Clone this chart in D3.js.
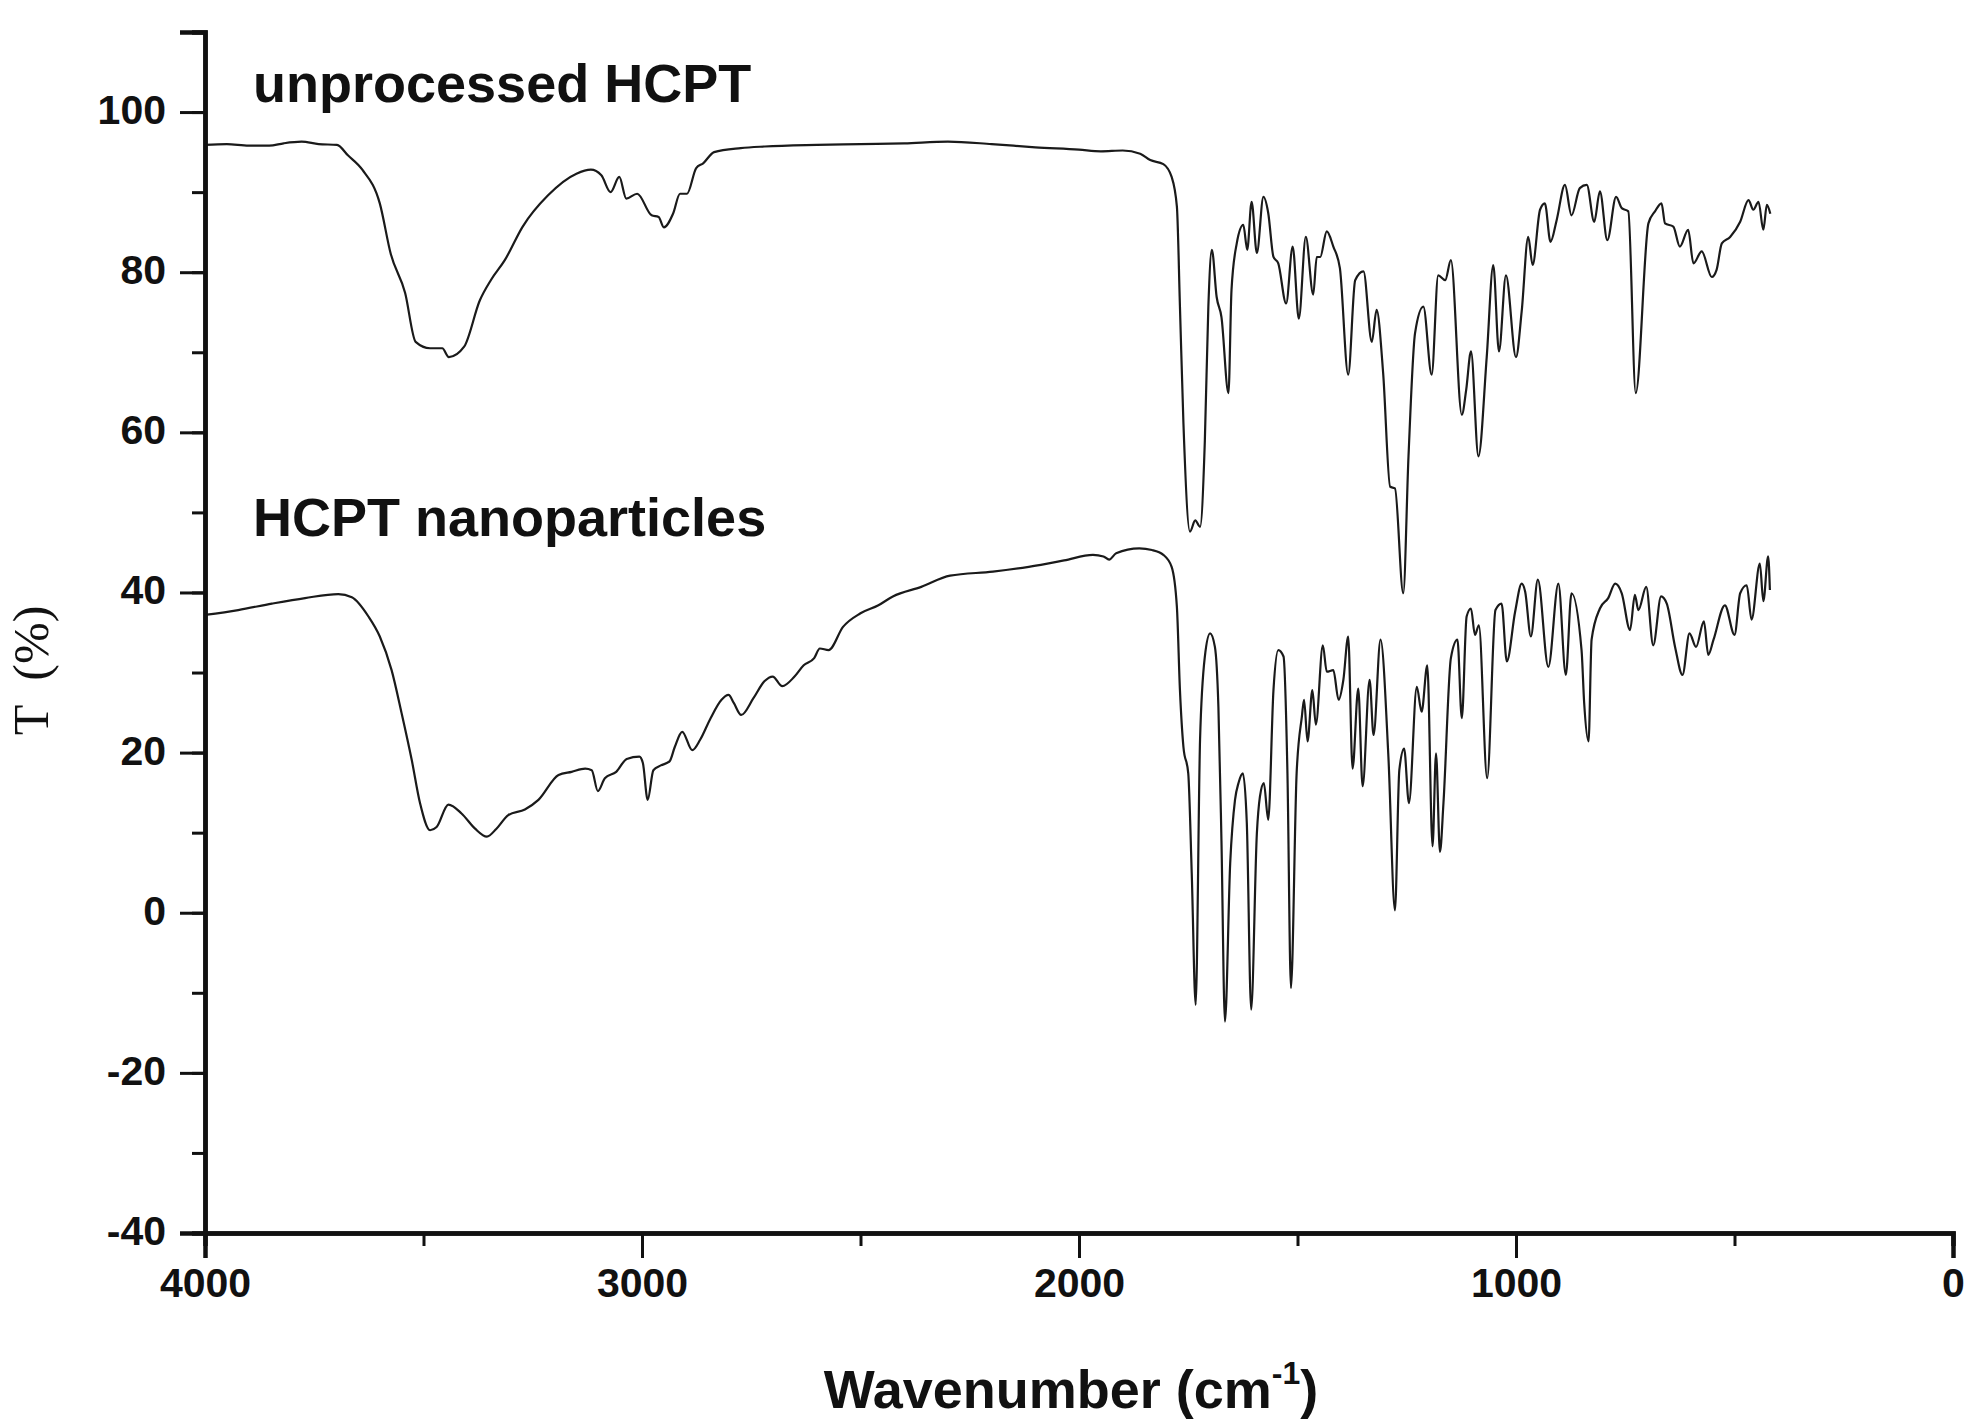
<!DOCTYPE html>
<html>
<head>
<meta charset="utf-8">
<script src="https://cdn.jsdelivr.net/npm/d3@7"></script>
<style>
  html, body { margin: 0; padding: 0; background: #fff; }
  svg { display: block; font-family: "Liberation Sans", Arial, sans-serif; }
</style>
</head>
<body>
<svg id="chart"></svg>
<script>
const WIDTH = 1967;
const HEIGHT = 1422;
const MARGIN = { top: 32, right: 14, bottom: 189, left: 205 };
const FONT = "'Liberation Sans', Arial, sans-serif";

// unprocessed HCPT
const rawWavenumber = [4000, 3950, 3900, 3853, 3820, 3779, 3740, 3698, 3673, 3640, 3600, 3575, 3542, 3518, 3485, 3457, 3442, 3407, 3371, 3346, 3314, 3273, 3215, 3150, 3117, 3093, 3072, 3052, 3036, 3011, 2978, 2962, 2950, 2929, 2913, 2897, 2876, 2860, 2835, 2774, 2719, 2600, 2500, 2400, 2300, 2200, 2100, 2000, 1950, 1900, 1860, 1837, 1807, 1788, 1776, 1769, 1761, 1746, 1734, 1723, 1712, 1704, 1696, 1685, 1674, 1658, 1651, 1639, 1624, 1615, 1605, 1593, 1578, 1567, 1555, 1544, 1526, 1511, 1497, 1481, 1464, 1456, 1448, 1433, 1418, 1403, 1384, 1368, 1349, 1330, 1319, 1304, 1288, 1277, 1258, 1246, 1231, 1212, 1193, 1178, 1162, 1149, 1124, 1114, 1103, 1086, 1067, 1052, 1039, 1023, 1000, 987, 972, 962, 945, 934, 921, 907, 888, 873, 854, 838, 821, 808, 791, 771, 758, 743, 726, 697, 682, 667, 659, 640, 625, 606, 594, 575, 552, 541, 529, 510, 487, 468, 457, 445, 434, 426, 418];
const rawT = [95.9, 96.0, 95.8, 95.8, 96.1, 96.3, 96.0, 95.9, 94.6, 92.8, 88.6, 82.3, 77.4, 71.3, 70.5, 70.5, 69.4, 70.7, 76.5, 79.0, 81.5, 85.7, 89.6, 92.3, 92.8, 92.1, 90.0, 91.9, 89.2, 89.8, 87.1, 86.9, 85.6, 87.3, 89.8, 89.8, 93.0, 93.6, 95.0, 95.5, 95.7, 95.9, 96.0, 96.1, 96.3, 96.0, 95.6, 95.3, 95.1, 95.2, 94.8, 94.0, 93.5, 91.9, 88.2, 75.7, 61.1, 47.6, 49.0, 48.2, 59.0, 75.7, 82.8, 76.9, 74.4, 64.9, 77.8, 83.6, 85.9, 82.8, 88.8, 82.4, 89.4, 87.4, 81.9, 81.1, 76.1, 83.2, 74.2, 84.4, 77.2, 81.9, 81.9, 85.1, 83.2, 80.5, 67.2, 79.0, 80.1, 71.3, 75.3, 67.4, 53.2, 53.0, 39.9, 57.0, 72.4, 75.7, 67.2, 79.6, 79.0, 81.5, 62.2, 65.3, 70.1, 57.0, 69.4, 80.9, 70.1, 79.6, 69.4, 75.1, 84.4, 80.9, 87.8, 88.6, 83.8, 86.5, 90.9, 87.1, 90.5, 90.9, 86.3, 90.1, 84.0, 89.4, 88.0, 87.6, 64.9, 86.1, 87.6, 88.6, 86.1, 85.7, 83.2, 85.3, 81.1, 82.6, 79.4, 80.3, 83.6, 84.4, 86.3, 89.0, 87.8, 88.8, 85.3, 88.4, 87.3];

// HCPT nanoparticles
const nanoWavenumber = [4000, 3924, 3847, 3771, 3695, 3664, 3626, 3600, 3573, 3550, 3527, 3508, 3485, 3470, 3443, 3413, 3382, 3355, 3333, 3306, 3268, 3237, 3191, 3161, 3130, 3115, 3101, 3085, 3059, 3035, 3006, 2998, 2987, 2974, 2957, 2937, 2925, 2908, 2885, 2867, 2843, 2818, 2802, 2790, 2773, 2745, 2720, 2701, 2679, 2651, 2630, 2606, 2593, 2573, 2540, 2500, 2459, 2426, 2361, 2295, 2197, 2115, 2034, 1968, 1944, 1931, 1915, 1862, 1833, 1807, 1788, 1776, 1769, 1761, 1750, 1742, 1733, 1723, 1712, 1700, 1689, 1681, 1674, 1666, 1654, 1643, 1635, 1625, 1616, 1606, 1593, 1586, 1577, 1567, 1555, 1544, 1532, 1523, 1515, 1502, 1490, 1485, 1477, 1466, 1458, 1442, 1433, 1418, 1406, 1395, 1384, 1374, 1361, 1351, 1335, 1326, 1310, 1292, 1277, 1267, 1256, 1245, 1227, 1216, 1203, 1191, 1183, 1174, 1166, 1149, 1134, 1124, 1113, 1103, 1094, 1085, 1066, 1047, 1033, 1021, 1002, 987, 979, 966, 950, 926, 903, 886, 873, 850, 844, 834, 827, 808, 789, 773, 758, 739, 728, 720, 702, 686, 668, 655, 636, 619, 603, 588, 570, 560, 548, 522, 500, 487, 472, 461, 442, 434, 423, 419];
const nanoT = [37.2, 37.8, 38.6, 39.3, 39.8, 39.4, 37.0, 34.5, 30.3, 24.9, 19.1, 13.7, 10.3, 10.7, 13.5, 12.4, 10.5, 9.5, 10.5, 12.2, 12.9, 14.1, 17.2, 17.6, 18.0, 17.8, 15.2, 16.8, 17.6, 19.2, 19.5, 18.7, 14.1, 17.8, 18.4, 18.9, 20.7, 22.6, 20.3, 21.6, 24.3, 26.6, 27.2, 26.2, 24.7, 26.8, 28.9, 29.5, 28.3, 29.5, 30.9, 31.8, 33.0, 32.8, 35.7, 37.4, 38.4, 39.5, 40.7, 42.1, 42.6, 43.2, 44.0, 44.7, 44.5, 44.1, 44.9, 45.5, 45.3, 44.7, 43.2, 38.2, 27.8, 20.7, 17.4, 4.9, -11.5, 21.6, 32.0, 34.9, 33.2, 25.7, 9.0, -13.6, 6.2, 14.1, 16.2, 17.4, 11.2, -12.1, 9.9, 14.5, 16.2, 11.6, 27.8, 32.8, 32.0, 17.4, -9.4, 17.4, 24.5, 26.6, 21.4, 27.8, 23.5, 33.4, 30.1, 30.3, 26.6, 29.1, 34.5, 18.0, 28.0, 15.8, 29.1, 22.2, 34.1, 19.5, 0.3, 17.8, 20.5, 13.7, 28.2, 25.1, 30.9, 8.3, 19.9, 7.6, 13.7, 31.8, 34.1, 24.3, 37.0, 38.0, 34.7, 35.9, 16.8, 37.8, 38.6, 31.4, 37.6, 41.1, 40.1, 34.5, 41.6, 30.7, 41.1, 29.7, 39.9, 32.8, 26.2, 21.4, 34.1, 38.0, 39.3, 41.1, 39.9, 35.3, 39.7, 37.8, 40.7, 33.4, 39.5, 38.6, 33.2, 29.7, 34.9, 33.2, 36.4, 32.2, 34.1, 38.4, 34.7, 39.9, 40.9, 36.6, 43.6, 38.9, 44.5, 40.3];

const xTicks = [4000, 3000, 2000, 1000, 0];
const yTicks = [-40, -20, 0, 20, 40, 60, 80, 100];
const seriesNames = ["unprocessed HCPT", "HCPT nanoparticles"];
// label anchors in data units [wavenumber, T]
const labelAnchors = [[3890, 101.2], [3890, 47.1]];

const svg = d3.select("#chart")
  .attr("width", WIDTH)
  .attr("height", HEIGHT);

const innerW = WIDTH - MARGIN.left - MARGIN.right;
const innerH = HEIGHT - MARGIN.top - MARGIN.bottom;

const x = d3.scaleLinear().domain([4000, 0]).range([MARGIN.left, MARGIN.left + innerW]);
const y = d3.scaleLinear().domain([-40, 110]).range([MARGIN.top + innerH, MARGIN.top]);

const series = [
  d3.zip(rawWavenumber, rawT),
  d3.zip(nanoWavenumber, nanoT)
];

const line = d3.line()
  .x(d => x(d[0]))
  .y(d => y(d[1]))
  .curve(d3.curveMonotoneX);

svg.append("g").selectAll("path")
  .data(series)
  .join("path")
  .attr("d", line)
  .attr("fill", "none")
  .attr("stroke", "#1a1a1a")
  .attr("stroke-width", 2.2)
  .attr("stroke-linejoin", "round");

// plain hyphen for negatives, like the original
const plainFormat = d => String(d);

// minor ticks first, majors on top
const xAxisMinor = d3.axisBottom(x)
  .tickValues(d3.range(0, 4001, 500))
  .tickSize(13)
  .tickFormat("");
const xAxis = d3.axisBottom(x)
  .tickValues(xTicks)
  .tickSize(25)
  .tickPadding(10)
  .tickFormat(plainFormat);

const yAxisMinor = d3.axisLeft(y)
  .tickValues(d3.range(-40, 111, 10))
  .tickSize(13)
  .tickFormat("");
const yAxis = d3.axisLeft(y)
  .tickValues(yTicks)
  .tickSize(25)
  .tickPadding(14)
  .tickFormat(plainFormat);

const gx = svg.append("g").attr("transform", `translate(0,${MARGIN.top + innerH})`);
gx.append("g").call(xAxisMinor);
gx.append("g").call(xAxis);

const gy = svg.append("g").attr("transform", `translate(${MARGIN.left},0)`);
gy.append("g").call(yAxisMinor);
gy.append("g").call(yAxis);

svg.selectAll(".domain")
  .attr("stroke", "#111")
  .attr("stroke-width", 4.5);
svg.selectAll(".tick line")
  .attr("stroke", "#111")
  .attr("stroke-width", 3);

gx.selectAll(".tick text")
  .attr("fill", "#111")
  .style("font-family", FONT)
  .style("font-size", "41px")
  .style("font-weight", "bold");
gy.selectAll(".tick text")
  .attr("fill", "#111")
  .attr("dy", "0.28em")
  .style("font-family", FONT)
  .style("font-size", "41px")
  .style("font-weight", "bold");

// series labels
svg.append("g").selectAll("text")
  .data(seriesNames)
  .join("text")
  .attr("x", (d, i) => x(labelAnchors[i][0]))
  .attr("y", (d, i) => y(labelAnchors[i][1]))
  .attr("fill", "#111")
  .style("font-size", "54px")
  .style("font-weight", "bold")
  .text(d => d);

// axis titles
const xTitle = svg.append("text")
  .attr("x", MARGIN.left + innerW / 2 - 8)
  .attr("y", 1408)
  .attr("text-anchor", "middle")
  .attr("fill", "#111")
  .style("font-size", "54px")
  .style("font-weight", "bold");
xTitle.append("tspan").text("Wavenumber (cm");
xTitle.append("tspan").attr("dy", -24).style("font-size", "32px").text("-1");
xTitle.append("tspan").attr("dy", 24).text(")");

svg.append("text")
  .attr("transform", `translate(48,${MARGIN.top + innerH / 2 + 38}) rotate(-90)`)
  .attr("text-anchor", "middle")
  .attr("fill", "#111")
  .style("font-family", "'Liberation Serif', 'Times New Roman', serif")
  .style("font-size", "50px")
  .style("white-space", "pre")
  .text("T  (%)");
</script>
</body>
</html>
